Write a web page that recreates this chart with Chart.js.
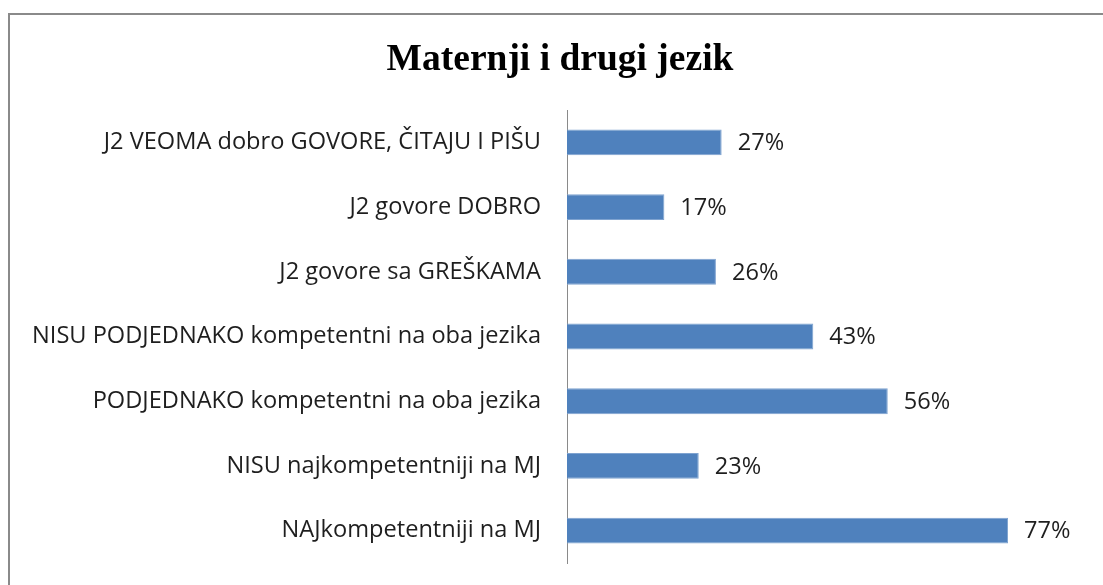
<!DOCTYPE html>
<html>
<head>
<meta charset="utf-8">
<script src="https://cdn.jsdelivr.net/npm/chart.js@4/dist/chart.umd.min.js"></script>
<style>
    html, body { margin: 0; padding: 0; background: #fff; overflow: hidden; }
    #frame {
        position: absolute; left: 8px; top: 13px;
        width: 1200px; height: 700px;
        border: 2px solid #8a8a8a;
    }
    #wrap { position: absolute; left: 0; top: 0; width: 1103px; height: 585px; }
</style>
</head>
<body>
<div id="frame"></div>
<div id="wrap"><canvas id="chart" width="1103" height="585"></canvas></div>
<script>
// Maternji i drugi jezik
const title = 'Maternji i drugi jezik';
const categories = [
    'J2 VEOMA dobro GOVORE, ČITAJU I PIŠU',
    'J2 govore DOBRO',
    'J2 govore sa GREŠKAMA',
    'NISU PODJEDNAKO kompetentni na oba jezika',
    'PODJEDNAKO kompetentni na oba jezika',
    'NISU najkompetentniji na MJ',
    'NAJkompetentniji na MJ'
];
const values = [27, 17, 26, 43, 56, 23, 77];
const valueLabels = ['27%', '17%', '26%', '43%', '56%', '23%', '77%'];

const labelFont = { family: "'Open Sans', sans-serif", size: 23.6 };

const ctx = document.getElementById('chart').getContext('2d');

new Chart(ctx, {
    type: 'bar',
    data: {
        labels: categories,
        datasets: [{
            data: values,
            backgroundColor: '#4f81bd',
            borderColor: '#7fa3d0',
            borderWidth: 1,
            barPercentage: 0.4,
            categoryPercentage: 1.0
        }]
    },
    options: {
        indexAxis: 'y',
        animation: false,
        responsive: false,
        layout: { padding: { left: 0, right: 20.5, top: 110, bottom: 22 } },
        plugins: {
            legend: { display: false },
            tooltip: { enabled: false },
            title: { display: false }
        },
        scales: {
            x: {
                display: false,
                min: 0,
                max: 90
            },
            y: {
                // tick marks hidden with the grid; tickLength only spaces the labels
                grid: { display: false, drawTicks: true, tickLength: 24 },
                border: { display: true, color: '#8a8a8a', width: 1 },
                ticks: {
                    color: '#1e1e1e',
                    font: labelFont,
                    padding: 2
                },
                afterFit(scale) { scale.width = 567; }
            }
        }
    },
    plugins: [{
        // title sits off-centre in the original, so it is drawn by hand
        id: 'offsetTitle',
        afterDraw(chart) {
            const c = chart.ctx;
            c.save();
            c.fillStyle = '#000';
            c.font = "bold 37.5px 'Liberation Serif', 'Times New Roman', serif";
            c.textAlign = 'center';
            c.textBaseline = 'alphabetic';
            c.fillText(title, 560, 70);
            c.restore();
        }
    }, {
        id: 'valueLabels',
        afterDatasetsDraw(chart) {
            const c = chart.ctx;
            c.save();
            c.fillStyle = '#1e1e1e';
            c.font = `${labelFont.size}px ${labelFont.family}`;
            c.textAlign = 'left';
            c.textBaseline = 'middle';
            chart.getDatasetMeta(0).data.forEach((bar, i) => {
                c.fillText(valueLabels[i], bar.x + 16, bar.y + 1);
            });
            c.restore();
        }
    }]
});
</script>
</body>
</html>
